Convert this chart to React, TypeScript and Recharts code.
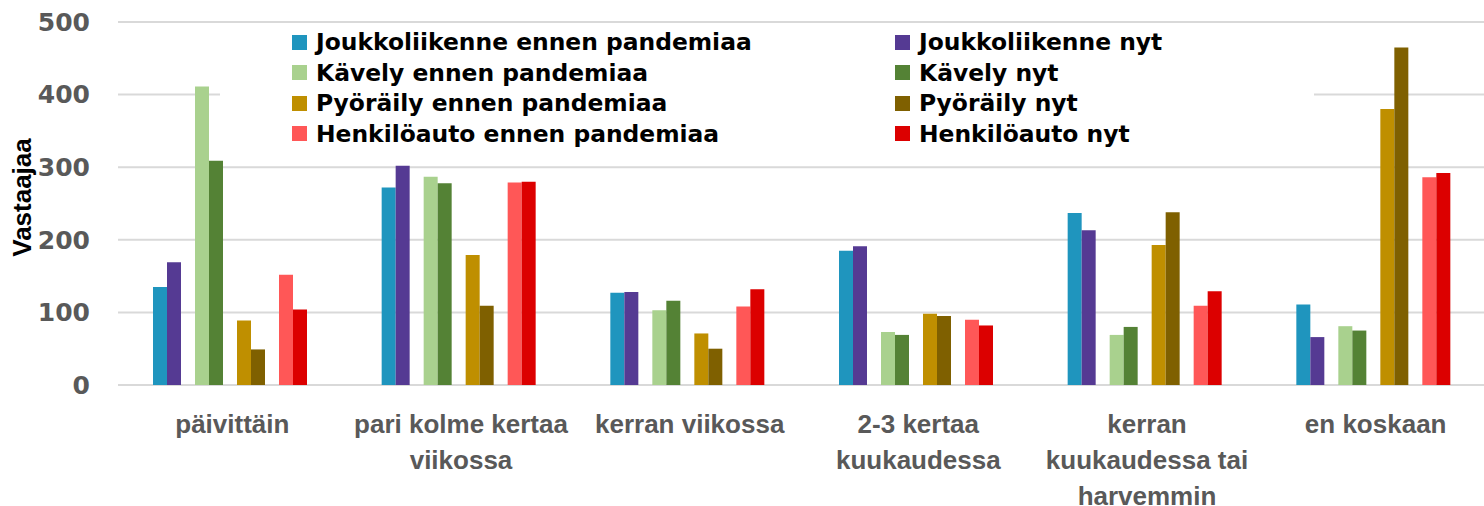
import { BarChart, Bar, XAxis, YAxis, CartesianGrid, Legend, Label } from "recharts";

const categories = [
  "päivittäin",
  "pari kolme kertaa\nviikossa",
  "kerran viikossa",
  "2-3 kertaa\nkuukaudessa",
  "kerran\nkuukaudessa tai\nharvemmin",
  "en koskaan",
];

const joukkoEnnen = [135, 272, 127, 185, 237, 111];
const joukkoNyt = [169, 302, 128, 191, 213, 66];
const kavelyEnnen = [411, 287, 103, 73, 69, 81];
const kavelyNyt = [309, 278, 116, 69, 80, 75];
const pyoraEnnen = [89, 179, 71, 98, 193, 380];
const pyoraNyt = [49, 109, 50, 95, 238, 465];
const autoEnnen = [152, 279, 108, 90, 109, 286];
const autoNyt = [104, 280, 132, 82, 129, 292];

const yTicks = [0, 100, 200, 300, 400, 500];

// pairs: [before, now]
const pairs = [
  [
    { key: "joukkoEnnen", name: "Joukkoliikenne ennen pandemiaa", color: "#1f95be", values: joukkoEnnen },
    { key: "joukkoNyt", name: "Joukkoliikenne nyt", color: "#553a93", values: joukkoNyt },
  ],
  [
    { key: "kavelyEnnen", name: "Kävely ennen pandemiaa", color: "#a9d18e", values: kavelyEnnen },
    { key: "kavelyNyt", name: "Kävely nyt", color: "#548235", values: kavelyNyt },
  ],
  [
    { key: "pyoraEnnen", name: "Pyöräily ennen pandemiaa", color: "#bf8f00", values: pyoraEnnen },
    { key: "pyoraNyt", name: "Pyöräily nyt", color: "#7f6000", values: pyoraNyt },
  ],
  [
    { key: "autoEnnen", name: "Henkilöauto ennen pandemiaa", color: "#ff5757", values: autoEnnen },
    { key: "autoNyt", name: "Henkilöauto nyt", color: "#dc0000", values: autoNyt },
  ],
];

const rows = categories.map((category, i) => {
  const row: Record<string, string | number> = { category };
  pairs.forEach((p) => p.forEach((s) => (row[s.key] = s.values[i])));
  return row;
});

const CategoryTick = (props: any) => {
  const { x, y, payload } = props;
  const lines = String(payload.value).split("\n");
  return (
    <text
      x={x}
      y={y}
      textAnchor="middle"
      fill="#595959"
      fontFamily="Liberation Sans, Arial, sans-serif"
      fontWeight="bold"
      fontSize={26}
    >
      {lines.map((line, i) => (
        <tspan key={i} x={x} dy={i === 0 ? 48 : 36}>
          {line}
        </tspan>
      ))}
    </text>
  );
};

const YLabel = (props: any) => {
  const { viewBox } = props;
  const x = viewBox.x + 22;
  const y = viewBox.y + viewBox.height / 2 - 6;
  return (
    <text
      x={x}
      y={y}
      transform={`rotate(-90, ${x}, ${y})`}
      textAnchor="middle"
      dominantBaseline="central"
      fill="#000"
      fontFamily="Liberation Sans, Arial, sans-serif"
      fontWeight="bold"
      fontSize={26}
    >
      Vastaajaa
    </text>
  );
};

const LegendBox = () => (
  <div
    style={{
      display: "grid",
      gridTemplateColumns: "603px auto",
      gridAutoRows: "30.5px",
      paddingLeft: 72,
      paddingTop: 4,
      fontFamily: "DejaVu Sans, Verdana, sans-serif",
      fontWeight: "bold",
      fontSize: 23.4,
      color: "#000",
    }}
  >
    {pairs.flat().map((s) => (
      <div key={s.key} style={{ display: "flex", alignItems: "center", gap: 9, whiteSpace: "nowrap" }}>
        <span style={{ width: 15, height: 15, background: s.color, display: "inline-block" }} />
        <span>{s.name}</span>
      </div>
    ))}
  </div>
);

function App() {
  return (
    <div style={{ position: "absolute", left: 0, top: 0, width: 1484, height: 506, background: "#fff" }}>
      <BarChart
        width={1484}
        height={506}
        data={rows}
        margin={{ top: 22, right: -6, bottom: 0, left: 0 }}
        barCategoryGap={35}
        barGap={0}
      >
        <CartesianGrid vertical={false} stroke="#d9d9d9" strokeWidth={2} />
        <XAxis
          dataKey="category"
          height={121}
          axisLine={false}
          tickLine={false}
          tickSize={0}
          tickMargin={0}
          interval={0}
          tick={<CategoryTick />}
        />
        <YAxis
          width={118}
          domain={[0, 500]}
          ticks={yTicks}
          axisLine={false}
          tickLine={false}
          tickSize={0}
          tickMargin={28}
          tick={{ fill: "#595959", fontSize: 25, fontWeight: "bold", fontFamily: "DejaVu Sans" }}
        >
          <Label content={<YLabel />} />
        </YAxis>
        <Legend
          layout="vertical"
          align="center"
          verticalAlign="middle"
          content={<LegendBox />}
          wrapperStyle={{ left: 220, top: 23, width: 1094, height: 137, background: "#fff" }}
        />
        {pairs.map((p, i) => [
          ...p.map((s) => (
            <Bar key={s.key} dataKey={s.key} name={s.name} fill={s.color} isAnimationActive={false} />
          )),
          i < pairs.length - 1 ? (
            <Bar key={`gap${i}`} dataKey={`gap${i}`} legendType="none" fill="none" isAnimationActive={false} />
          ) : null,
        ])}
      </BarChart>
    </div>
  );
}

export default App;
